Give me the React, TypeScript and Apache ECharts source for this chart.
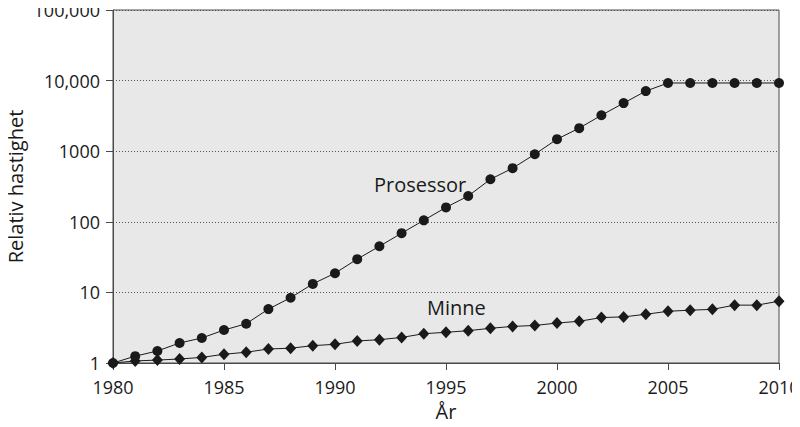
import React, { useEffect, useRef } from "react";
import * as echarts from "echarts";

const years = [1980, 1981, 1982, 1983, 1984, 1985, 1986, 1987, 1988, 1989, 1990, 1991, 1992, 1993, 1994, 1995, 1996, 1997, 1998, 1999, 2000, 2001, 2002, 2003, 2004, 2005, 2006, 2007, 2008, 2009, 2010];

const prosessor = [1, 1.25, 1.48, 1.92, 2.26, 2.93, 3.6, 5.8, 8.4, 13.2, 18.7, 29.6, 45, 69, 105, 160, 232, 400, 575, 905, 1480, 2120, 3230, 4800, 7100, 9250, 9250, 9250, 9250, 9250, 9250];

const minne = [1, 1.07, 1.1, 1.14, 1.2, 1.33, 1.42, 1.58, 1.62, 1.76, 1.84, 2.05, 2.14, 2.3, 2.6, 2.72, 2.87, 3.1, 3.3, 3.4, 3.68, 3.9, 4.4, 4.5, 4.9, 5.4, 5.6, 5.75, 6.6, 6.6, 7.5];

const yTickLabels: Record<string, string> = {
  "1": "1",
  "10": "10",
  "100": "100",
  "1000": "1000",
  "10000": "10,000",
  "100000": "100,000",
};

const FONT = "'Open Sans', 'Noto Sans', sans-serif";
const INK = "#1a1a1a";

export default function App() {
  const ref = useRef<HTMLDivElement>(null);
  useEffect(() => {
    if (!ref.current) return;
    const chart = echarts.init(ref.current, undefined, { renderer: "svg" });
    chart.setOption({
      animation: false,
      backgroundColor: "#ffffff",
      textStyle: { fontFamily: FONT },
      grid: {
        left: 113,
        right: 21,
        top: 10,
        bottom: 64,
        show: true,
        backgroundColor: "#e8e8e8",
        borderColor: "#4a4a4a",
        borderWidth: 1,
        containLabel: false,
        outerBoundsMode: "none",
      },
      xAxis: {
        type: "value",
        min: 1980,
        max: 2010,
        interval: 5,
        name: "År",
        nameLocation: "middle",
        nameGap: 38,
        nameMoveOverlap: false,
        nameTextStyle: { fontSize: 20, color: INK, fontFamily: FONT },
        axisLine: { show: true, lineStyle: { color: "#4a4a4a", width: 1 } },
        axisTick: { show: true, length: 7, lineStyle: { color: "#4a4a4a" } },
        axisLabel: {
          fontSize: 18,
          color: INK,
          margin: 15,
          fontFamily: FONT,
          formatter: (v: number) => String(v),
        },
        splitLine: { show: false },
      },
      yAxis: {
        type: "log",
        logBase: 10,
        min: 1,
        max: 100000,
        name: "Relativ hastighet",
        nameLocation: "middle",
        nameGap: 88,
        nameMoveOverlap: false,
        nameTextStyle: { fontSize: 20, color: INK, fontFamily: FONT },
        axisLine: { show: true, lineStyle: { color: "#4a4a4a", width: 1 } },
        axisTick: { show: true, length: 7, lineStyle: { color: "#4a4a4a" } },
        axisLabel: {
          fontSize: 18,
          color: INK,
          margin: 13,
          padding: [6, 0, 0, 0],
          fontFamily: FONT,
          formatter: (v: number) => yTickLabels[String(Math.round(v))] ?? String(v),
        },
        splitLine: {
          show: true,
          lineStyle: { color: "#555555", type: [1, 2], width: 1 },
        },
      },
      series: [
        {
          name: "Prosessor",
          type: "line",
          data: years.map((y, i) => [y, prosessor[i]]),
          symbol: "circle",
          symbolSize: 10,
          lineStyle: { color: INK, width: 1 },
          itemStyle: { color: INK },
          z: 3,
        },
        {
          name: "Minne",
          type: "line",
          data: years.map((y, i) => [y, minne[i]]),
          symbol: "diamond",
          symbolSize: [11, 12],
          lineStyle: { color: INK, width: 1 },
          itemStyle: { color: INK },
          z: 4,
        },
      ],
      graphic: [
        {
          type: "text",
          left: 374,
          top: 174,
          style: { text: "Prosessor", fontSize: 20, fill: INK, fontFamily: FONT },
        },
        {
          type: "text",
          left: 427,
          top: 297,
          style: { text: "Minne", fontSize: 20, fill: INK, fontFamily: FONT },
        },
      ],
    });
    return () => chart.dispose();
  }, []);
  return <div ref={ref} style={{ width: 800, height: 427, margin: -8 }} />;
}
